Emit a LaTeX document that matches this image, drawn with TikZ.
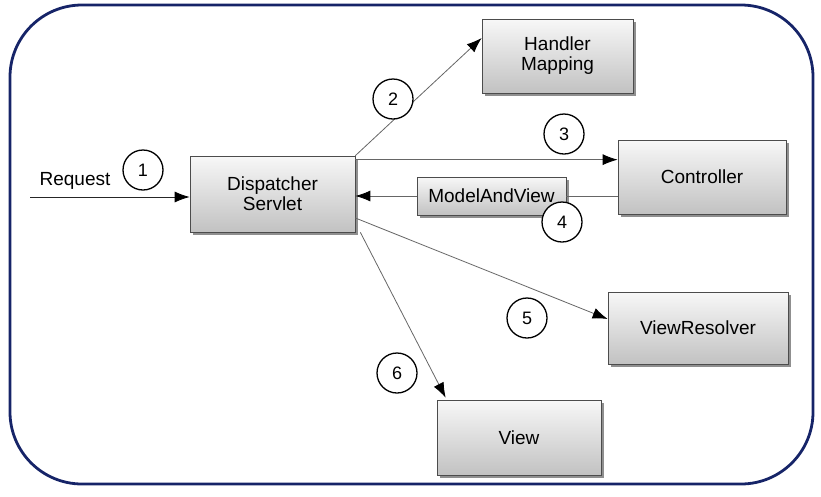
\documentclass[tikz,border=0pt]{standalone}
\usepackage{fontspec}
\setmainfont{Liberation Sans}
\usetikzlibrary{calc,arrows.meta,shadows}
\definecolor{frame}{RGB}{22,36,104}

\begin{document}
\begin{tikzpicture}[x=1pt,y=-1pt,
    comp/.style={draw=black!70, line width=0.7pt, top color=gray!6, bottom color=gray!48,
      drop shadow={shadow xshift=3pt, shadow yshift=-3pt, fill=black!55, opacity=.8},
      font=\fontsize{19}{20}\selectfont, align=center},
    step num/.style={draw, circle, line width=1.3pt, fill=white, minimum size=40pt,
      inner sep=0pt, font=\fontsize{18}{20}\selectfont},
    flow/.style={draw=black!60, line width=0.8pt, -{Latex[length=15pt,width=11pt,black]}}]
      \useasboundingbox (0,0) rectangle (821,496);
      \draw[frame, line width=2.8pt, rounded corners=72pt] (10,5) rectangle (813,484);
      \node (DS) at (272.5,194) [comp, minimum width=165pt, minimum height=76pt] {Dispatcher\\Servlet};
      \node (HM) at (557.5,56) [comp, minimum width=151pt, minimum height=74pt] {Handler\\Mapping};
      \node (C) at (702,177) [comp, minimum width=168pt, minimum height=74pt] {Controller};
      \node (MAV) at (491.5,196) [comp, minimum width=149pt, minimum height=38pt] {ModelAndView};
      \node (VR) at (698,328) [comp, minimum width=180pt, minimum height=72pt] {ViewResolver};
      \node (V) at (519,437.5) [comp, minimum width=164pt, minimum height=75pt] {View};
      \coordinate (R) at (30,197);
      \node (Req) at (75,181) [font=\fontsize{19}{20}\selectfont] {Request};
      \draw[flow, draw=black!85] (R) to (DS.west |- R);
      \draw[flow] (DS.north east) to ([yshift=18pt]HM.west);
      \draw[flow] ([yshift=-4pt]DS.north east) to ([yshift=-4pt]DS.north east -| C.west);
      \draw[draw=black!60, line width=0.8pt] (C.west |- MAV) to (MAV.east);
      \draw[flow] (MAV.west) to (DS.east |- MAV);
      \draw[flow] ([yshift=-24pt]DS.east) to ([yshift=9pt]VR.west);
      \draw[flow] ([xshift=5pt]DS.south east) to ([xshift=9pt,yshift=2pt]V.north west);
      \node (n1) at (143,170) [step num] {1};
      \node (n2) at (393,99) [step num] {2};
      \node (n3) at (564,134) [step num] {3};
      \node (n4) at (562,222) [step num] {4};
      \node (n5) at (527,318) [step num] {5};
      \node (n6) at (397,373) [step num] {6};
    \end{tikzpicture}
\end{document}
